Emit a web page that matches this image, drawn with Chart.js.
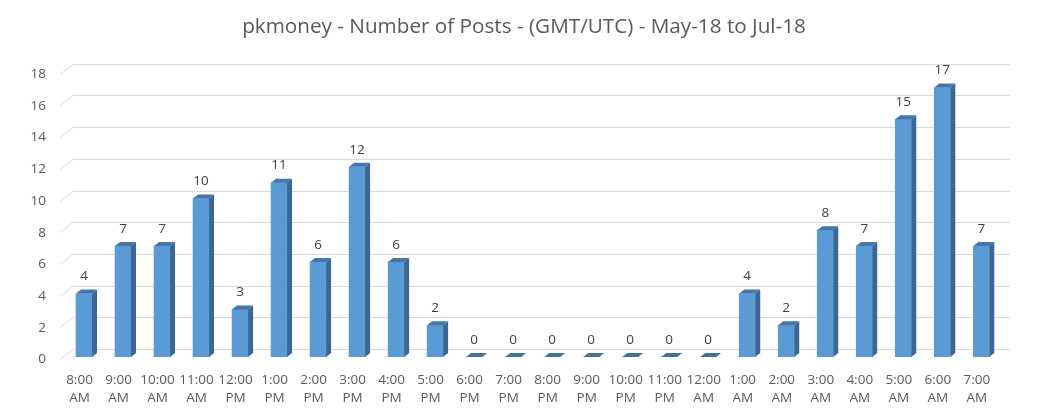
<!DOCTYPE html>
<html>
<head>
<meta charset="utf-8">
<script src="https://cdn.jsdelivr.net/npm/chart.js@4"></script>
<style>
html,body{margin:0;padding:0;background:#fff;}
#wrap{width:1048px;height:416px;}
</style>
</head>
<body>
<div id="wrap"><canvas id="c" width="1048" height="416"></canvas></div>
<script>
const chartTitle = 'pkmoney - Number of Posts - (GMT/UTC) - May-18 to Jul-18';
const hourLabels = ['8:00','9:00','10:00','11:00','12:00','1:00','2:00','3:00','4:00','5:00','6:00','7:00','8:00','9:00','10:00','11:00','12:00','1:00','2:00','3:00','4:00','5:00','6:00','7:00'];
const periodLabels = ['AM','AM','AM','AM','PM','PM','PM','PM','PM','PM','PM','PM','PM','PM','PM','PM','AM','AM','AM','AM','AM','AM','AM','AM'];
const postCounts = [4,7,7,10,3,11,6,12,6,2,0,0,0,0,0,0,0,4,2,8,7,15,17,7];
const yTicks = [0,2,4,6,8,10,12,14,16,18];

const categories = hourLabels.map((h,i)=>[h, periodLabels[i]]);

const DX = 5, DY = 4;
const FONT = '"Open Sans", "Noto Sans", sans-serif';

const titlePlugin = {
  id: 'centeredTitle',
  afterDraw(chart){
    const ctx = chart.ctx;
    ctx.save();
    ctx.fillStyle = '#595959';
    ctx.font = '20.7px ' + FONT;
    ctx.textAlign = 'center';
    ctx.textBaseline = 'middle';
    ctx.fillText(chartTitle, chart.width/2, 27);
    ctx.restore();
  }
};

const gridPlugin = {
  id: 'grid3d',
  beforeDatasetsDraw(chart){
    const ctx = chart.ctx, y = chart.scales.y, a = chart.chartArea;
    ctx.save();
    ctx.strokeStyle = '#D9D9D9';
    ctx.lineWidth = 1;
    yTicks.forEach(v=>{
      const yf = Math.round(y.getPixelForValue(v));
      ctx.beginPath();
      ctx.moveTo(a.left-4.5, yf+2.5);
      ctx.lineTo(a.left+8.5, yf-7.5);
      ctx.lineTo(a.right+10, yf-7.5);
      ctx.stroke();
    });
    ctx.restore();
  }
};

const bar3dPlugin = {
  id: 'bar3d',
  afterDatasetsDraw(chart){
    const ctx = chart.ctx;
    const meta = chart.getDatasetMeta(0);
    const yScale = chart.scales.y;
    const base = yScale.getPixelForValue(0);
    ctx.save();
    meta.data.forEach((bar,i)=>{
      const p = bar.getProps(['x','y','width'], true);
      const l = p.x - p.width/2, r = p.x + p.width/2, t = p.y;
      if (postCounts[i] > 0) {
        ctx.fillStyle = '#3A6793';
        ctx.beginPath();
        ctx.moveTo(r, t); ctx.lineTo(r+DX, t-DY); ctx.lineTo(r+DX, base-DY); ctx.lineTo(r, base);
        ctx.closePath(); ctx.fill();
        ctx.fillStyle = '#4675A8';
        ctx.beginPath();
        ctx.moveTo(l, t); ctx.lineTo(l+DX, t-DY); ctx.lineTo(r+DX, t-DY); ctx.lineTo(r, t);
        ctx.closePath(); ctx.fill();
      } else {
        ctx.fillStyle = '#41719C';
        ctx.beginPath();
        ctx.moveTo(l, base); ctx.lineTo(l+DX, base-DY); ctx.lineTo(r+DX, base-DY); ctx.lineTo(r, base);
        ctx.closePath(); ctx.fill();
      }
      ctx.fillStyle = '#404040';
      ctx.font = '13.5px ' + FONT;
      ctx.textAlign = 'center';
      ctx.textBaseline = 'middle';
      ctx.fillText(String(postCounts[i]), p.x, t - 17);
    });
    ctx.restore();
  }
};

new Chart(document.getElementById('c'), {
  type: 'bar',
  data: {
    labels: categories,
    datasets: [{
      data: postCounts,
      backgroundColor: '#5B9BD5',
      borderWidth: 0,
      barThickness: 16
    }]
  },
  options: {
    responsive: false,
    devicePixelRatio: 1,
    animation: false,
    layout: { padding: { left: 0, right: 47.2, top: 71.7, bottom: 0 } },
    plugins: {
      legend: { display: false },
      tooltip: { enabled: false },
      title: { display: false }
    },
    scales: {
      x: {
        offset: true,
        grid: { display: false, drawTicks: false },
        border: { display: false },
        ticks: {
          color: '#595959',
          font: { family: FONT, size: 13.5, lineHeight: 1.35 },
          padding: 14,
          labelOffset: -4.5,
          maxRotation: 0,
          autoSkip: false
        },
        afterFit(s){ s.height = 59; }
      },
      y: {
        min: 0, max: 18,
        grid: { display: false, drawTicks: false },
        border: { display: false },
        ticks: {
          stepSize: 2,
          color: '#595959',
          font: { family: FONT, size: 13.5 },
          padding: 18.5,
          labelOffset: 2.5
        },
        afterFit(s){ s.width = 64.5; }
      }
    }
  },
  plugins: [gridPlugin, bar3dPlugin, titlePlugin]
});
</script>
</body>
</html>
